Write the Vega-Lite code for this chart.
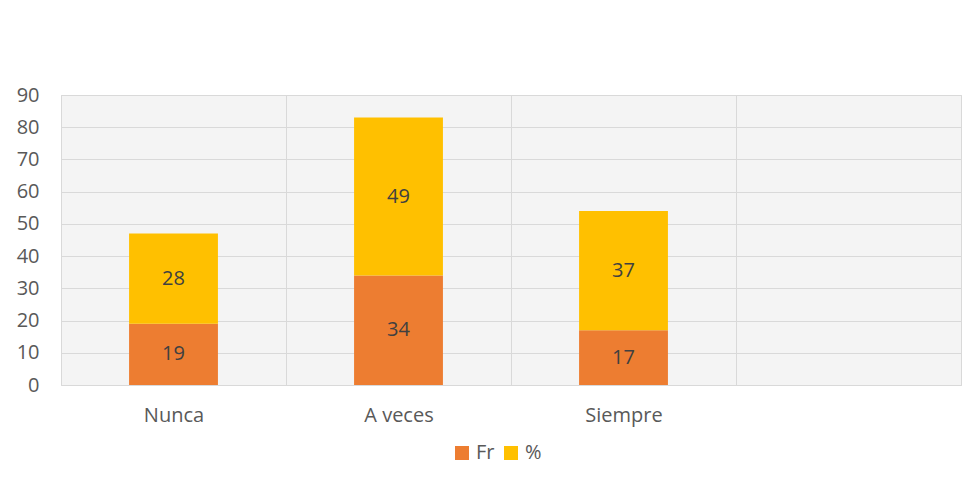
{
  "$schema": "https://vega.github.io/schema/vega-lite/v6.json",
  "width": 900,
  "height": 290,
  "autosize": "none",
  "padding": {"left": 61, "top": 95, "right": 2, "bottom": 100},
  "background": "white",
  "config": {
    "view": {"fill": "#f4f4f4", "stroke": "#d9d9d9", "strokeWidth": 1},
    "font": "Open Sans"
  },
  "data": {
    "values": [
      {"cat": "Nunca", "serie": "Fr", "valor": 19, "orden": 1},
      {"cat": "Nunca", "serie": "%", "valor": 28, "orden": 2},
      {"cat": "A veces", "serie": "Fr", "valor": 34, "orden": 1},
      {"cat": "A veces", "serie": "%", "valor": 49, "orden": 2},
      {"cat": "Siempre", "serie": "Fr", "valor": 17, "orden": 1},
      {"cat": "Siempre", "serie": "%", "valor": 37, "orden": 2}
    ]
  },
  "transform": [
    {"stack": "valor", "groupby": ["cat"], "sort": [{"field": "orden"}], "as": ["v0", "v1"]},
    {"calculate": "(datum.v0 + datum.v1) / 2", "as": "mid"}
  ],
  "layer": [
    {
      "mark": {"type": "bar", "width": {"band": 0.395}},
      "encoding": {
        "x": {
          "field": "cat", "type": "nominal",
          "scale": {"domain": ["Nunca", "A veces", "Siempre", " "], "paddingInner": 0, "paddingOuter": 0},
          "axis": {
            "title": null, "labelAngle": 0, "labelFontSize": 20, "labelColor": "#595959",
            "labelPadding": 20, "domain": false, "ticks": false, "grid": true,
            "gridColor": "#d9d9d9", "gridWidth": 1, "tickBand": "extent"
          }
        },
        "y": {
          "field": "v0", "type": "quantitative",
          "scale": {"domain": [0, 90], "nice": false},
          "axis": {
            "title": null, "values": [0, 10, 20, 30, 40, 50, 60, 70, 80, 90], "tickCount": 10,
            "labelFontSize": 20, "labelColor": "#595959", "labelPadding": 22,
            "labelOverlap": false, "labelFlush": false,
            "domain": false, "ticks": false, "tickSize": 0, "grid": true,
            "gridColor": "#d9d9d9", "gridWidth": 1
          }
        },
        "y2": {"field": "v1"},
        "color": {
          "field": "serie", "type": "nominal",
          "scale": {"domain": ["Fr", "%"], "range": ["#ED7D31", "#FFC000"]},
          "legend": {
            "title": null, "orient": "none", "direction": "horizontal",
            "legendX": 391, "legendY": 348, "symbolType": "square", "symbolSize": 196,
            "symbolStrokeWidth": 0, "labelFontSize": 20, "labelColor": "#595959",
            "columnPadding": 6, "labelOffset": 4, "symbolOpacity": 1
          }
        }
      }
    },
    {
      "mark": {"type": "text", "fontSize": 20, "color": "#404040"},
      "encoding": {
        "x": {
          "field": "cat", "type": "nominal",
          "scale": {"domain": ["Nunca", "A veces", "Siempre", " "], "paddingInner": 0, "paddingOuter": 0},
          "axis": {
            "title": null, "labelAngle": 0, "labelFontSize": 20, "labelColor": "#595959",
            "labelPadding": 20, "domain": false, "ticks": false, "grid": true,
            "gridColor": "#d9d9d9", "gridWidth": 1, "tickBand": "extent"
          }
        },
        "y": {
          "field": "mid", "type": "quantitative",
          "scale": {"domain": [0, 90], "nice": false},
          "axis": {
            "title": null, "values": [0, 10, 20, 30, 40, 50, 60, 70, 80, 90], "tickCount": 10,
            "labelFontSize": 20, "labelColor": "#595959", "labelPadding": 22,
            "labelOverlap": false, "labelFlush": false,
            "domain": false, "ticks": false, "tickSize": 0, "grid": true,
            "gridColor": "#d9d9d9", "gridWidth": 1
          }
        },
        "text": {"field": "valor", "type": "quantitative"}
      }
    }
  ]
}
